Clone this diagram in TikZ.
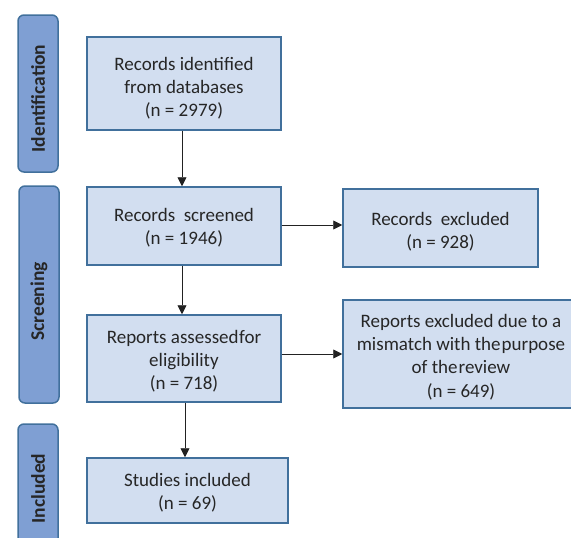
\documentclass[tikz,border=0pt]{standalone}
\usepackage{fontspec}
\setmainfont{Carlito}
\usetikzlibrary{arrows.meta,calc}
\definecolor{boxfill}{HTML}{D2DEF0}
\definecolor{boxdraw}{HTML}{41709C}
\definecolor{barfill}{HTML}{7F9FD3}
\definecolor{linec}{HTML}{222222}
\tikzset{
  stagebox/.style={draw=boxdraw, fill=boxfill, line width=1.5pt, inner sep=0pt},
  stagetext/.style={align=center, font=\fontsize{19}{23.2}\selectfont, text=black!85, inner sep=0pt},
  phasebar/.style={draw=boxdraw, fill=barfill, line width=1.5pt, rounded corners=6pt,
    inner sep=0pt},
  phaselabel/.style={rotate=90, font=\fontsize{19.5}{22}\selectfont\bfseries, text=black!85},
  flow/.style={draw=linec, line width=0.9pt, -{Triangle[length=9pt,width=9pt]}}
}
\begin{document}
\begin{tikzpicture}[x=1pt,y=-1pt]
\useasboundingbox (0,0) rectangle (571,538);
\clip (0,0) rectangle (571,538);
% phase bars
\node[phasebar, minimum width=40pt, minimum height=157pt] (pid) at (38,93.5) {};
\node[phaselabel] (lid) at ($(pid.center)+(0,5)$) {Identification};
\node[phasebar, minimum width=40pt, minimum height=217pt] (psc) at (39,294.5) {};
\node[phaselabel] (lsc) at ($(psc.center)+(0,7)$) {Screening};
\node[phasebar, minimum width=40pt, minimum height=128pt] (pin) at (38,488) {};
\node[phaselabel] (lin) at ($(pin.center)+(0,0.5)$) {Included};
% boxes
\node[stagebox, minimum width=194pt, minimum height=93pt] (b1) at (184,83.5) {};
\node[stagetext] (t1) at ($(b1.center)+(0,4.5)$) {Records identified\\from databases\\(n = 2979)};
\node[stagebox, minimum width=194pt, minimum height=78pt] (b2) at (184,226) {};
\node[stagetext] (t2) at ($(b2.center)+(0,2)$) {Records\ \ screened\\(n = 1946)};
\node[stagebox, minimum width=194pt, minimum height=87pt] (b3) at (184,358.5) {};
\node[stagetext] (t3) at ($(b3.center)+(0,3)$) {Reports assessed\hspace{0.5pt}for\\eligibility\\(n = 718)};
\node[stagebox, minimum width=201pt, minimum height=65pt] (b4) at (187.5,490.5) {};
\node[stagetext] (t4) at ($(b4.center)+(0,2)$) {Studies included\\(n = 69)};
\node[stagebox, minimum width=195pt, minimum height=78pt] (b5) at (440.5,228) {};
\node[stagetext] (t5) at ($(b5.center)+(0,3.5)$) {Records\ \ excluded\\(n = 928)};
\node[stagebox, minimum width=230pt, minimum height=108pt] (b6) at (458,354) {};
\node[stagetext] (t6) at ($(b6.center)+(3,3)$) {Reports excluded due to a\\mismatch with the\hspace{1pt}purpose\\of the\hspace{1pt}review\\(n = 649)};
% connectors
\draw[flow] ($(b1.south)+(-2,0)$) -- ($(b2.north)+(-2,0)$);
\draw[flow] ($(b2.south)+(-2,0)$) -- ($(b3.north)+(-2,0)$);
\draw[flow] ($(b3.south)+(1,0)$) -- ($(b3.south |- b4.north)+(1,0)$);
\draw[flow] ($(b2.east)+(0,-1)$) -- ($(b2.east -| b5.west)+(0,-1)$);
\draw[flow] (b6.west -| b3.east) -- (b6.west);
\end{tikzpicture}
\end{document}
